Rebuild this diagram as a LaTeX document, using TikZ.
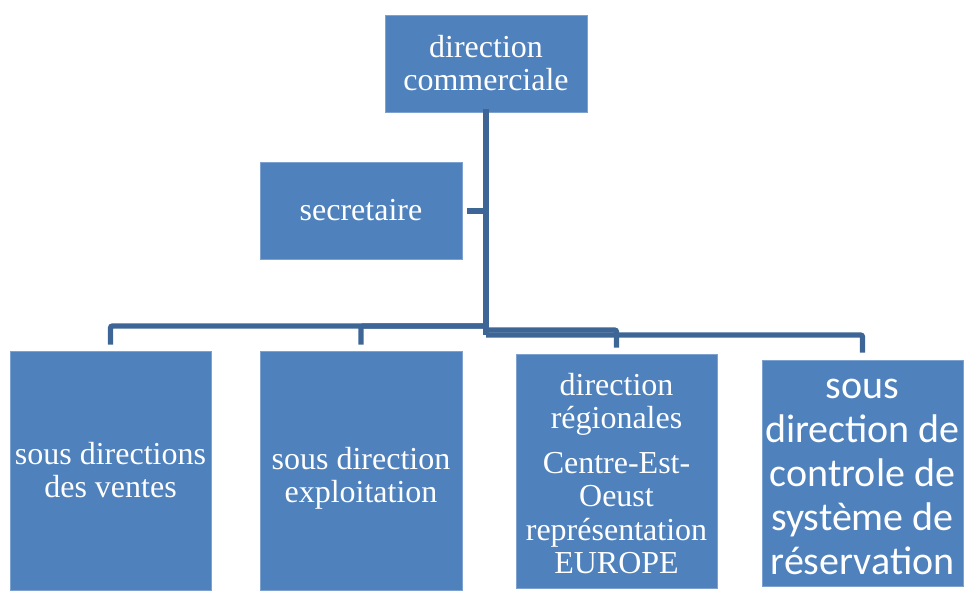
\documentclass[tikz,border=0pt]{standalone}
\usepackage{fontspec}
\setmainfont{Liberation Serif}
\newfontfamily\calib{Carlito}
\definecolor{boxfill}{HTML}{4F81BD}
\definecolor{boxedge}{HTML}{7EA2CF}
\definecolor{linkblue}{HTML}{3D6596}
\tikzset{
  orgbox/.style={draw=boxedge, line width=0.6pt, fill=boxfill, text=white,
    align=center, inner sep=2pt, font=\fontsize{32}{33}\selectfont},
  link/.style={draw=linkblue, line width=5.3pt, rounded corners=2pt}
}
\begin{document}
\begin{tikzpicture}[x=1pt, y=-1pt]
\useasboundingbox (0,0) rectangle (964,590);
% boxes
\node[orgbox, minimum width=202pt, minimum height=97pt] (dc) at (486,63.5)
  {direction\\commerciale};
\node[orgbox, minimum width=202pt, minimum height=97pt] (sec) at (361,210.5)
  {secretaire};
\node[orgbox, minimum width=201pt, minimum height=239pt] (ventes) at (110.5,470.5)
  {sous directions\\des ventes};
\node[orgbox, minimum width=202pt, minimum height=239pt] (exploit) at (361,470.5)
  {\rule{0pt}{37pt}sous direction\\exploitation};
\node[orgbox, minimum width=201pt, minimum height=234pt, font=\fontsize{32}{33.5}\selectfont] (region) at (616.5,471)
  {\rule{0pt}{27pt}direction\\régionales\\[11pt]Centre-Est-\\Oeust\\représentation\\EUROPE};
\node[orgbox, minimum width=201pt, minimum height=226pt, font=\calib\fontsize{40}{44}\selectfont] (resa) at (862.5,473)
  {\rule{0pt}{27pt}sous\\direction de\\controle de\\système de\\réservation};
% junction points on the trunk
\coordinate (jsec) at (486,211);
\coordinate (jl) at (486,326);
\coordinate (j3) at (486,330);
\coordinate (j4) at (486,335);
% trunk
\draw[link] ([yshift=3pt]dc.south) -- (j4);
% secretaire
\draw[link] (jsec) -- ([xshift=5pt]sec.east |- jsec);
% left branch
\draw[link, shorten >=6pt] (jl) -- (ventes.north |- jl) -- (ventes.north);
\draw[link, shorten >=6pt] (jl) -- (exploit.north |- jl) -- (exploit.north);
% right branch
\draw[link, shorten >=6pt] (j3) -- (region.north |- j3) -- (region.north);
\draw[link, shorten >=7pt] (j4) -- (resa.north |- j4) -- (resa.north);
\end{tikzpicture}
\end{document}
